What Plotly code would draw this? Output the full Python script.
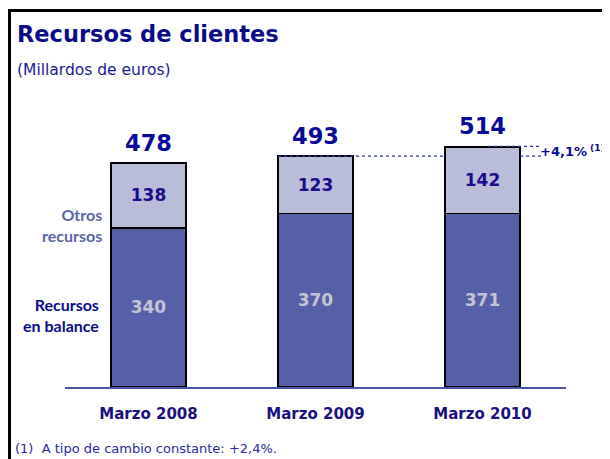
import plotly.graph_objects as go

# ---- data ----
categories = ["Marzo 2008", "Marzo 2009", "Marzo 2010"]
recursos_balance = [340, 370, 371]
otros_recursos = [138, 123, 142]
totales = [478, 493, 514]
growth_label = "+4,1%"

# ---- layout geometry (page pixels; the page body adds an 8px offset) ----
PAGE_W, PAGE_H = 610, 459
OFF = 8
W, H = PAGE_W - OFF, PAGE_H - OFF          # figure size that fits the window
PLOT_L, PLOT_R, PLOT_T, PLOT_B = 65, 566, 106, 387   # desired page pixels
ML, MT = PLOT_L - OFF, PLOT_T - OFF
MR, MB = W - (PLOT_R - OFF), H - (PLOT_B - OFF)
PW, PH = PLOT_R - PLOT_L, PLOT_B - PLOT_T


def px_x(p):
    return (p - PLOT_L) / PW


def px_y(p):
    return (PLOT_B - p) / PH


DV = "DejaVu Sans"
LATO = "Lato"
BAR_W = 0.45
x = list(range(len(categories)))

fig = go.Figure()
fig.add_trace(go.Bar(
    x=x, y=recursos_balance, width=BAR_W,
    marker=dict(color="#5560a6", line=dict(color="#000000", width=1.5)),
    text=recursos_balance, textposition="inside", insidetextanchor="middle",
    textfont=dict(family=DV, size=17, color="#c4c4d4", weight="bold"),
    hoverinfo="skip", showlegend=False,
))
fig.add_trace(go.Bar(
    x=x, y=otros_recursos, width=BAR_W,
    marker=dict(color="#b9bdda", line=dict(color="#000000", width=1.5)),
    text=otros_recursos, textposition="inside", insidetextanchor="middle",
    textfont=dict(family=DV, size=17, color="#1a0a8c", weight="bold"),
    hoverinfo="skip", showlegend=False,
))

annotations = []
# totals above bars
for xi, t in zip(x, totales):
    annotations.append(dict(
        x=xi, y=t, xref="x", yref="y", text=str(t), showarrow=False,
        yanchor="bottom", yshift=5,
        font=dict(family=DV, size=22.5, color="#0a0a99", weight="bold"),
    ))

# dotted comparison lines
half = BAR_W / 2
line_style = dict(color="#2a36a8", width=1.3, dash="dot")
shapes = [
    dict(type="line", xref="x", yref="y", x0=x[1] - half, x1=x[2] - half,
         y0=totales[1], y1=totales[1], line=line_style),
    dict(type="line", xref="x", yref="y", x0=x[2] + 0.033, x1=x[2] + 0.35,
         y0=totales[2], y1=totales[2], line=line_style),
    dict(type="line", xref="x", yref="y", x0=x[2] + half, x1=x[2] + 0.35,
         y0=totales[1], y1=totales[1], line=line_style),
]
annotations.append(dict(
    x=x[2] + 0.33, y=(totales[1] + totales[2]) / 2, xref="x", yref="y",
    text=growth_label + "<sup>\u00a0(1)</sup>", showarrow=False,
    xanchor="left", yanchor="middle",
    font=dict(family=DV, size=13, color="#0a0a99", weight="bold"),
))

# series labels at left
annotations.append(dict(
    x=px_x(104), y=px_y(225), xref="paper", yref="paper",
    text="Otros<br>recursos", showarrow=False, xanchor="right", yanchor="middle",
    align="right",
    font=dict(family=LATO, size=16, color="#5a64a8", weight="bold"),
))
annotations.append(dict(
    x=px_x(101), y=px_y(315), xref="paper", yref="paper",
    text="Recursos<br>en balance", showarrow=False, xanchor="right", yanchor="middle",
    align="right",
    font=dict(family=LATO, size=16, color="#0a0a8c", weight="bold"),
))

# title, subtitle, footnote
annotations.append(dict(
    x=px_x(15), y=px_y(34), xref="paper", yref="paper",
    text="Recursos de clientes", showarrow=False, xanchor="left", yanchor="middle",
    font=dict(family=DV, size=22.5, color="#0c0c8a", weight="bold"),
))
annotations.append(dict(
    x=px_x(15), y=px_y(70), xref="paper", yref="paper",
    text="(Millardos de euros)", showarrow=False, xanchor="left", yanchor="middle",
    font=dict(family=DV, size=15.5, color="#1a1a99"),
))
annotations.append(dict(
    x=px_x(13), y=px_y(448), xref="paper", yref="paper",
    text="(1)\u00a0\u00a0A tipo de cambio constante: +2,4%.", showarrow=False,
    xanchor="left", yanchor="middle",
    font=dict(family=DV, size=13, color="#2a2aa0"),
))

# frame lines (left and top border)
shapes.append(dict(type="line", xref="paper", yref="paper",
                   x0=px_x(9.5), x1=px_x(9.5), y0=px_y(9), y1=px_y(PAGE_H + 10),
                   line=dict(color="#000000", width=3)))
shapes.append(dict(type="line", xref="paper", yref="paper",
                   x0=px_x(8), x1=px_x(PAGE_W + 10), y0=px_y(10.5), y1=px_y(10.5),
                   line=dict(color="#000000", width=3)))

fig.update_layout(
    barmode="stack",
    width=W, height=H,
    margin=dict(l=ML, r=MR, t=MT, b=MB, pad=0),
    paper_bgcolor="#ffffff", plot_bgcolor="#ffffff",
    xaxis=dict(range=[-0.5, 2.5], tickvals=x, ticktext=categories,
               showline=True, linecolor="#4a55a0", linewidth=2,
               showgrid=False, zeroline=False, ticks="", ticklabelstandoff=12,
               tickfont=dict(family=DV, size=15, color="#1a1080", weight="bold")),
    yaxis=dict(range=[0, 600], visible=False, showgrid=False, zeroline=False),
    annotations=annotations,
    shapes=shapes,
)

fig.write_html("out.html")
